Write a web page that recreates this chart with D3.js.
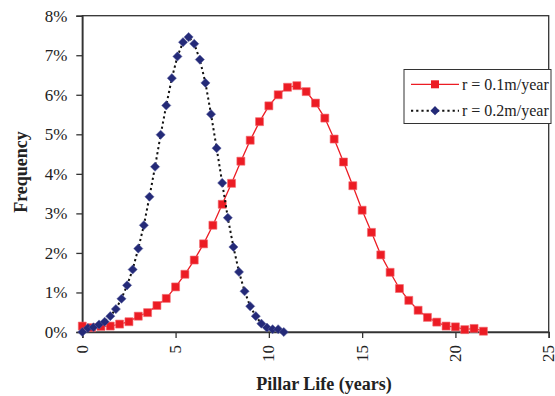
<!DOCTYPE html>
<html>
<head>
<meta charset="utf-8">
<script src="https://cdn.jsdelivr.net/npm/d3@7"></script>
<style>
  html, body { margin: 0; padding: 0; background: #fff; }
  svg { display: block; font-family: "Liberation Serif", "Times New Roman", serif; }
</style>
</head>
<body>
<svg id="chart" width="555" height="396"></svg>
<script>
// Pillar life distribution for two erosion rates (frequency in %)
const yearsSlow = [0, 0.5, 1, 1.5, 2, 2.5, 3, 3.5, 4, 4.5, 5, 5.5, 6, 6.5, 7, 7.5, 8, 8.5, 9, 9.5,
  10, 10.5, 11, 11.5, 12, 12.5, 13, 13.5, 14, 14.5, 15, 15.5, 16, 16.5, 17, 17.5, 18, 18.5, 19, 19.5,
  20, 20.5, 21, 21.5];
const freqSlow = [0.15, 0.11, 0.14, 0.15, 0.20, 0.26, 0.40, 0.49, 0.67, 0.85, 1.14, 1.46, 1.82, 2.23,
  2.70, 3.23, 3.76, 4.32, 4.85, 5.32, 5.72, 6.00, 6.19, 6.23, 6.08, 5.79, 5.41, 4.88, 4.30, 3.70,
  3.08, 2.52, 1.95, 1.51, 1.10, 0.80, 0.55, 0.37, 0.25, 0.15, 0.13, 0.06, 0.09, 0.02];

const yearsFast = [0, 0.3, 0.6, 0.9, 1.2, 1.5, 1.8, 2.1, 2.4, 2.7, 3.0, 3.3, 3.6, 3.9, 4.2, 4.5, 4.8,
  5.1, 5.4, 5.7, 6.0, 6.3, 6.6, 6.9, 7.2, 7.5, 7.8, 8.1, 8.4, 8.7, 9.0, 9.3, 9.6, 9.9, 10.2, 10.5, 10.8];
const freqFast = [0.00, 0.10, 0.12, 0.19, 0.26, 0.40, 0.58, 0.84, 1.18, 1.58, 2.11, 2.70, 3.42, 4.18,
  4.99, 5.73, 6.42, 6.97, 7.33, 7.46, 7.29, 6.89, 6.30, 5.51, 4.65, 3.77, 2.89, 2.15, 1.52, 1.03,
  0.65, 0.40, 0.21, 0.11, 0.07, 0.07, 0.00];

const seriesNames = ["r = 0.1m/year", "r = 0.2m/year"];
const xTicks = [0, 5, 10, 15, 20, 25];
const yTicks = [0, 1, 2, 3, 4, 5, 6, 7, 8];

const RED = "#ec1c24";
const NAVY = "#242a78";
const AXIS = "#333";

const svg = d3.select("#chart");
const plotLeft = 82.3, plotRight = 548.7, plotTop = 15.7, plotBottom = 332;

const x = d3.scaleLinear().domain([0, 25]).range([plotLeft, plotRight]);
const y = d3.scaleLinear().domain([0, 8]).range([plotBottom, plotTop]);

// plot frame (top and right sides)
svg.append("rect")
  .attr("x", plotLeft).attr("y", plotTop)
  .attr("width", plotRight - plotLeft).attr("height", plotBottom - plotTop)
  .attr("fill", "none").attr("stroke", AXIS).attr("stroke-width", 1.3);

// y axis
const yAxis = svg.append("g")
  .attr("transform", `translate(${plotLeft},0)`)
  .call(d3.axisLeft(y).tickValues(yTicks).tickSize(6).tickPadding(9).tickFormat(d => d + "%"));
yAxis.select(".domain").attr("stroke", AXIS).attr("stroke-width", 1.6);
yAxis.selectAll(".tick line").attr("stroke", AXIS).attr("stroke-width", 1.3);
yAxis.selectAll("text")
  .attr("font-family", "Liberation Serif, serif")
  .attr("font-size", 17).attr("fill", "#222");

// x axis with rotated labels
const xAxis = svg.append("g")
  .attr("transform", `translate(0,${plotBottom})`)
  .call(d3.axisBottom(x).tickValues(xTicks).tickSize(6).tickFormat(d3.format("d")));
xAxis.select(".domain").attr("stroke", AXIS).attr("stroke-width", 1.6);
xAxis.selectAll(".tick line").attr("stroke", AXIS).attr("stroke-width", 1.3);
xAxis.selectAll("text")
  .attr("font-family", "Liberation Serif, serif")
  .attr("font-size", 17).attr("fill", "#222")
  .attr("text-anchor", "end")
  .attr("transform", "translate(0,13) rotate(-90)")
  .attr("x", 0).attr("y", 0).attr("dy", "0.29em");

// axis titles
svg.append("text")
  .attr("x", 324).attr("y", 390)
  .attr("text-anchor", "middle")
  .attr("font-weight", "bold").attr("font-size", 18).attr("fill", "#222")
  .text("Pillar Life (years)");

svg.append("text")
  .attr("transform", "translate(27,172) rotate(-90)")
  .attr("text-anchor", "middle")
  .attr("font-weight", "bold").attr("font-size", 18).attr("fill", "#222")
  .text("Frequency");

const slow = yearsSlow.map((t, i) => ({ t, f: freqSlow[i] }));
const fast = yearsFast.map((t, i) => ({ t, f: freqFast[i] }));

const line = d3.line().x(d => x(d.t)).y(d => y(d.f));

const square = d3.symbol().type(d3.symbolSquare).size(64);
// diamond = square turned 45 degrees (equal width and height)
const diamond = d3.symbol().type(d3.symbolSquare).size(42);

// r = 0.1 m/year: solid red with squares
svg.append("path").datum(slow)
  .attr("d", line).attr("fill", "none")
  .attr("stroke", RED).attr("stroke-width", 1.3);
svg.append("g").selectAll("path").data(slow).join("path")
  .attr("d", square)
  .attr("transform", d => `translate(${x(d.t)},${y(d.f)})`)
  .attr("fill", RED).attr("stroke", "#f46a70").attr("stroke-width", 0.6);

// r = 0.2 m/year: dotted black with navy diamonds
svg.append("path").datum(fast)
  .attr("d", line).attr("fill", "none")
  .attr("stroke", "#111").attr("stroke-width", 2)
  .attr("stroke-dasharray", "2.2,3");
svg.append("g").selectAll("path").data(fast).join("path")
  .attr("d", diamond)
  .attr("transform", d => `translate(${x(d.t)},${y(d.f)}) rotate(45)`)
  .attr("fill", NAVY).attr("stroke", "#5a5fa0").attr("stroke-width", 0.5);

// legend
const lg = svg.append("g");
lg.append("rect")
  .attr("x", 404).attr("y", 69.5).attr("width", 147).attr("height", 54)
  .attr("fill", "#fff").attr("stroke", AXIS).attr("stroke-width", 1);

const rows = [
  { name: seriesNames[0], y: 84.3, dash: null, width: 1.3, sym: square, rot: 0, fill: RED, lineColor: RED },
  { name: seriesNames[1], y: 110.7, dash: "2.2,3", width: 2, sym: diamond, rot: 45, fill: NAVY, lineColor: "#111" }
];
rows.forEach(r => {
  lg.append("line")
    .attr("x1", 411).attr("x2", 459).attr("y1", r.y).attr("y2", r.y)
    .attr("stroke", r.lineColor).attr("stroke-width", r.width)
    .attr("stroke-dasharray", r.dash);
  lg.append("path")
    .attr("d", r.sym)
    .attr("transform", `translate(435,${r.y}) rotate(${r.rot})`)
    .attr("fill", r.fill);
  lg.append("text")
    .attr("x", 462).attr("y", r.y).attr("dy", "0.33em")
    .attr("font-size", 16).attr("fill", "#222")
    .text(r.name);
});
</script>
</body>
</html>
